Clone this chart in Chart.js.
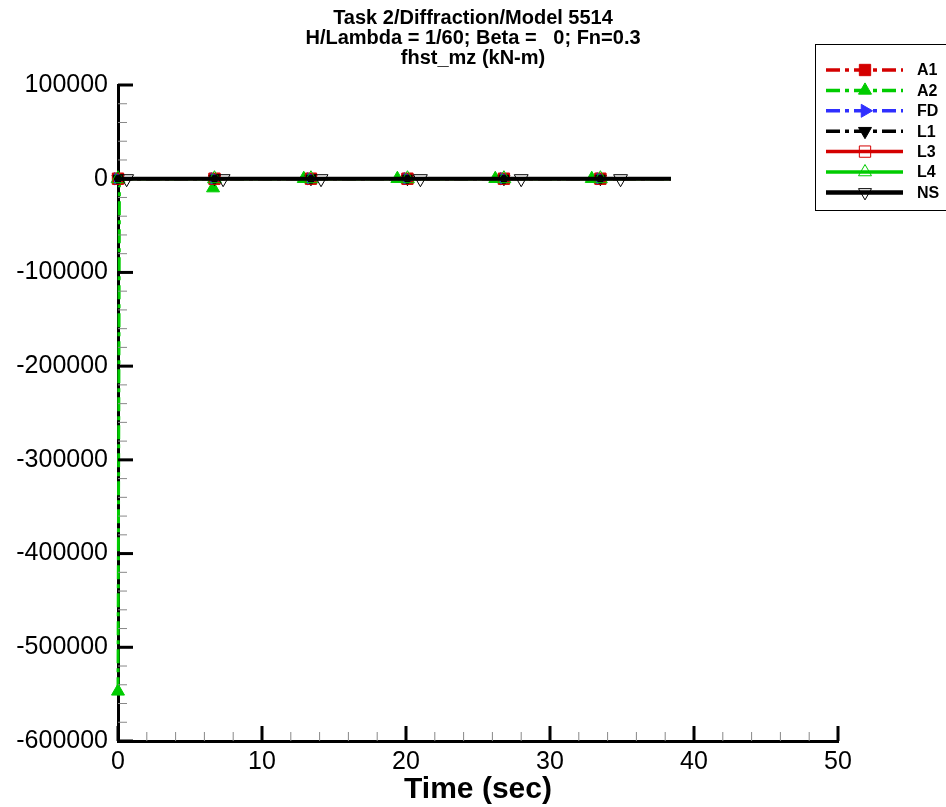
<!DOCTYPE html>
<html>
<head>
<meta charset="utf-8">
<title>fhst_mz</title>
<script src="https://cdn.jsdelivr.net/npm/chart.js@4/dist/chart.umd.min.js"></script>
<style>
  body { margin: 0; background: #fff; }
  #wrap { width: 946px; height: 807px; }
</style>
</head>
<body>
<div id="wrap"><canvas id="line-chart" width="946" height="807"></canvas></div>
<script>
// time (sec) and value (kN-m) for each run
tA1 = [0, 6.7, 13.4, 20.1, 26.8, 33.5, 38.4]
vA1 = [0, 0, 0, 0, 0, 0, 0]
tA2 = [0, 0.1, 6.5, 6.6, 6.7, 12.9, 19.4, 26.2, 32.9, 38.4]
vA2 = [-547000, 0, 0, -10000, 0, 0, 0, 0, 0, 0]
tFD = [0, 6.7, 13.4, 20.1, 26.8, 33.5, 38.4]
vFD = [0, 0, 0, 0, 0, 0, 0]
tL1 = [0, 6.7, 13.4, 20.1, 26.8, 33.5, 38.4]
vL1 = [0, 0, 0, 0, 0, 0, 0]
tL3 = [0, 6.7, 13.4, 20.1, 26.8, 33.5, 38.4]
vL3 = [0, 0, 0, 0, 0, 0, 0]
tL4 = [0, 6.7, 13.4, 20.1, 26.8, 33.5, 38.4]
vL4 = [0, 0, 0, 0, 0, 0, 0]
tNS = [0, 0.6, 7.3, 14.1, 21.0, 28.0, 34.9, 38.4]
vNS = [0, 0, 0, 0, 0, 0, 0, 0]

seriesNames = ['A1', 'A2', 'FD', 'L1', 'L3', 'L4', 'NS']
titleLines = ['Task 2/Diffraction/Model 5514', 'H/Lambda = 1/60; Beta =   0; Fn=0.3', 'fhst_mz (kN-m)']
xTitle = 'Time (sec)'

FONT = "'Liberation Sans', Arial, sans-serif"
RED = '#d40000'
GREEN = '#00cc00'
BLUE = '#2f2fff'
DASHDOT = [14, 5, 4, 5]

toPoints = function(t, v){
    return t.map(function(x, k){ return {x: x, y: v[k]} })
}

makeSet = function(i, t, v, s){
    var skip = s.noMark
    return {
        label: seriesNames[i],
        data: toPoints(t, v),
        borderColor: s.color,
        borderWidth: s.width || 3,
        borderDash: s.dash || [],
        pointStyle: s.shape,
        pointRotation: s.rot || 0,
        pointRadius: function(c){ return skip.indexOf(c.dataIndex) >= 0 ? 0 : s.size },
        pointBackgroundColor: s.fill ? s.color : 'rgba(0,0,0,0)',
        pointBorderColor: s.color,
        pointBorderWidth: 1,
        fill: false,
        tension: 0,
        clip: false,
        order: 10 - i
    }
}

datasets = [
    makeSet(0, tA1, vA1, {color: RED, dash: DASHDOT, shape: 'rect', size: 7.5, fill: true, noMark: [6]}),
    makeSet(1, tA2, vA2, {color: GREEN, dash: DASHDOT, shape: 'triangle', size: 7.5, fill: true, noMark: [1, 2, 4, 9]}),
    makeSet(2, tFD, vFD, {color: BLUE, dash: DASHDOT, shape: 'triangle', rot: 90, size: 7, fill: true, noMark: [6]}),
    makeSet(3, tL1, vL1, {color: '#000', dash: DASHDOT, shape: 'triangle', rot: 180, size: 7, fill: true, noMark: [6]}),
    makeSet(4, tL3, vL3, {color: RED, shape: 'rect', size: 8, fill: false, noMark: [6]}),
    makeSet(5, tL4, vL4, {color: GREEN, shape: 'triangle', size: 8, fill: false, noMark: [6]}),
    makeSet(6, tNS, vNS, {color: '#000', width: 4, shape: 'triangle', rot: 180, size: 8, fill: false, noMark: [0, 7]})
]

// inward major/minor tick marks like the original plot
tickMarks = {
    id: 'tickMarks',
    afterDraw: function(chart){
        var ctx = chart.ctx, a = chart.chartArea
        var xs = chart.scales.x, ys = chart.scales.y
        ctx.save()
        for (var v = ys.min; v <= ys.max; v += 20000) {
            var major = Math.abs(v % 100000) < 1
            var py = ys.getPixelForValue(v)
            ctx.beginPath()
            ctx.strokeStyle = major ? '#000' : '#888'
            ctx.lineWidth = major ? 3 : 1
            ctx.moveTo(a.left, py)
            ctx.lineTo(a.left + (major ? 15 : 9), py)
            ctx.stroke()
        }
        for (var t = xs.min; t <= xs.max; t += 2) {
            var majorX = t % 10 === 0
            var px = xs.getPixelForValue(t)
            ctx.beginPath()
            ctx.strokeStyle = majorX ? '#000' : '#888'
            ctx.lineWidth = majorX ? 3 : 1
            ctx.moveTo(px, a.bottom)
            ctx.lineTo(px, a.bottom - (majorX ? 15 : 9))
            ctx.stroke()
        }
        ctx.restore()
    }
}

// boxed legend at the top right, line sample with marker in the middle
boxLegend = {
    id: 'boxLegend',
    afterDraw: function(chart){
        var ctx = chart.ctx
        ctx.save()
        ctx.fillStyle = '#fff'
        ctx.fillRect(815.5, 44.5, 140, 166)
        ctx.strokeStyle = '#000'
        ctx.lineWidth = 1
        ctx.strokeRect(815.5, 44.5, 140, 166)
        chart.data.datasets.forEach(function(ds, i){
            var y = 70 + i * 20.4
            ctx.beginPath()
            ctx.setLineDash(ds.borderDash)
            ctx.strokeStyle = ds.borderColor
            ctx.lineWidth = ds.borderWidth + 0.5
            ctx.moveTo(826, y)
            ctx.lineTo(903, y)
            ctx.stroke()
            ctx.setLineDash([])
            ctx.fillStyle = ds.pointBackgroundColor
            ctx.strokeStyle = ds.pointBorderColor
            ctx.lineWidth = 1
            var r = ds.pointStyle === 'rect' ? 8 : 7.5
            Chart.helpers.drawPoint(ctx, {pointStyle: ds.pointStyle, rotation: ds.pointRotation, radius: r, borderWidth: 1}, 865, y)
            ctx.fillStyle = '#000'
            ctx.font = 'bold 16px ' + FONT
            ctx.textBaseline = 'middle'
            ctx.textAlign = 'left'
            ctx.fillText(ds.label, 917, y + 1)
        })
        ctx.restore()
    }
}

window.onload = function(){
    ctx = document.getElementById('line-chart')
    Chart.defaults.font.family = FONT
    Chart.defaults.color = '#000'
    config = {
        type: 'line',
        data: { datasets: datasets },
        options: {
            responsive: false,
            animation: false,
            events: [],
            plugins: {
                legend: { display: false },
                tooltip: { enabled: false },
                title: {
                    display: true,
                    text: titleLines,
                    color: '#000',
                    font: { size: 20, weight: 'bold', lineHeight: 1 },
                    padding: { top: 8, bottom: 17 }
                }
            },
            scales: {
                x: {
                    type: 'linear',
                    min: 0,
                    max: 50,
                    grid: { display: false },
                    border: { display: true, color: '#000', width: 3 },
                    ticks: { stepSize: 10, padding: -2, font: { size: 25 }, maxRotation: 0 },
                    title: { display: true, text: xTitle, font: { size: 30, weight: 'bold', lineHeight: 1 }, padding: { top: 0, bottom: 2 } },
                    afterFit: function(s){ s.height = 66 }
                },
                y: {
                    min: -600000,
                    max: 100000,
                    grid: { display: false },
                    border: { display: true, color: '#000', width: 3 },
                    ticks: { stepSize: 100000, padding: 2, font: { size: 25 }, callback: function(v){ return String(v) } },
                    afterFit: function(s){ s.width = 118 }
                },
                // empty right-hand axis that only keeps room for the legend box
                yRight: {
                    position: 'right',
                    min: 0,
                    max: 1,
                    grid: { display: false },
                    border: { display: false },
                    ticks: { display: false },
                    afterFit: function(s){ s.width = 108 }
                }
            }
        },
        plugins: [tickMarks, boxLegend]
    }
    createNewChart = new Chart(ctx, config)
}
</script>
</body>
</html>
